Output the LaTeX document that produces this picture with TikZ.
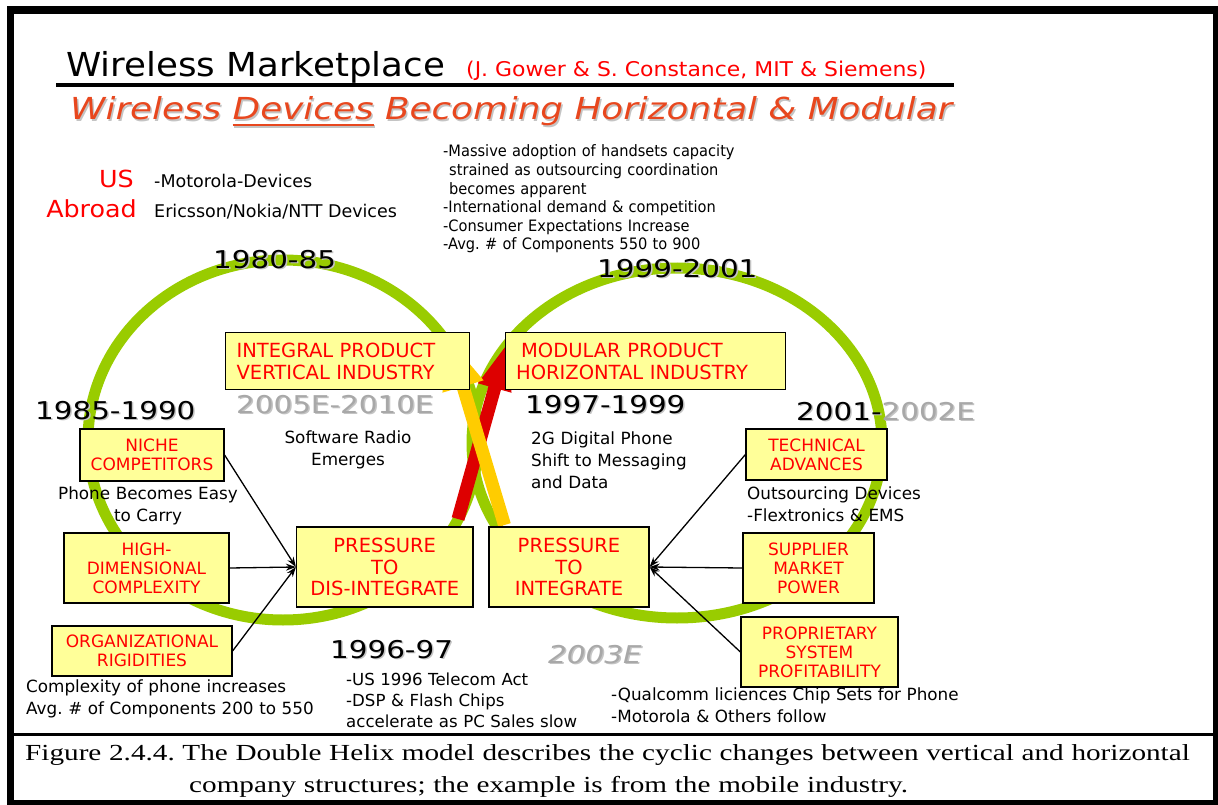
\documentclass[tikz,border=0pt]{standalone}
\usepackage{fontspec}
\setmainfont{DejaVu Sans}
\newfontfamily\titlefont[FakeStretch=1.08]{DejaVu Sans}
\newfontfamily\subfont[FakeStretch=1.18]{DejaVu Sans}
\newfontfamily\yearfont[FakeStretch=1.2]{DejaVu Sans}
\newfontfamily\narrowfont[FakeStretch=0.93]{DejaVu Sans}
\newfontfamily\capfont[FakeStretch=1.27]{Liberation Serif}
\usetikzlibrary{arrows.meta}
\definecolor{boxyellow}{HTML}{FFFF99}
\definecolor{boxred}{HTML}{FF0000}
\definecolor{helixgreen}{HTML}{99CC00}
\definecolor{arrowred}{HTML}{DD0000}
\definecolor{arrowyellow}{HTML}{FFCC00}
\definecolor{subred}{HTML}{E8471E}
\definecolor{yeargray}{HTML}{A8A8A8}
\definecolor{shadowgray}{HTML}{C4C4C4}
\newsavebox\ulbox
\newcommand\ulx[1]{\sbox\ulbox{#1}\rlap{\rule[-6.5pt]{\wd\ulbox}{2.6pt}}\usebox\ulbox}
\newcommand\shtext[3]{\rlap{\hspace{1.5pt}\raisebox{-1.5pt}{\color{#1}#3}}{\color{#2}#3}}
\tikzset{
  box/.style={draw=black, line width=1.2pt, fill=boxyellow, text=boxred, align=center, inner sep=0pt},
  smallbox/.style={box, font=\fontsize{17}{19}\selectfont},
  bigbox/.style={box, font=\fontsize{19.5}{21.5}\selectfont},
  lbl/.style={anchor=base west, inner sep=0pt},
  yr/.style={anchor=base west, inner sep=0pt, font=\yearfont\fontsize{24.5}{28}\selectfont},
  note/.style={inner sep=0pt, font=\fontsize{16.8}{22}\selectfont},
  conn/.style={-{Stealth[length=10pt,width=7pt]}, line width=1.3pt},
  helix/.style={draw=helixgreen, line width=11pt},
}
\begin{document}
\frenchspacing
\begin{tikzpicture}[x=1pt,y=-1pt]
\useasboundingbox (0,0) rectangle (1218,805);
% frame
\draw[line width=7.5pt] (10.3,10) rectangle (1216.5,804);
\draw[line width=3pt] (10.3,734.7) -- (1216.5,734.7);
% title
\node[lbl, font=\titlefont\fontsize{33}{36}\selectfont] (title) at (66,77) {Wireless Marketplace};
\node[lbl, text=boxred, font=\titlefont\fontsize{20.3}{24}\selectfont] (authors) at (466,77) {(J. Gower \& S. Constance, MIT \& Siemens)};
\draw[line width=4pt] (56,85) -- (954,85);
\node[lbl, font=\subfont\itshape\fontsize{30.3}{34}\selectfont] (subtitle) at (70,120) {\shtext{shadowgray}{subred}{Wireless \ulx{Devices} Becoming Horizontal \& Modular}};
% US / Abroad
\node[anchor=base east, inner sep=0pt, text=boxred, font=\titlefont\fontsize{23.5}{26}\selectfont] (us) at (134,188) {US};
\node[anchor=base east, inner sep=0pt, text=boxred, font=\titlefont\fontsize{23.5}{26}\selectfont] (abroad) at (137,218) {Abroad};
\node[lbl, font=\fontsize{17.5}{20}\selectfont] (moto) at (154,188) {-Motorola-Devices};
\node[lbl, font=\fontsize{17.5}{20}\selectfont] (eric) at (154,218) {Ericsson/Nokia/NTT Devices};
% massive block
\node[lbl, text width=300pt, align=left, font=\narrowfont\fontsize{15.7}{18.6}\selectfont] (massive) at (443,157)
  {-Massive adoption of handsets capacity\\\hspace*{6pt}strained as outsourcing coordination\\\hspace*{6pt}becomes apparent\\-International demand \& competition\\-Consumer Expectations Increase\\-Avg. \# of Components 550 to 900};
% helix
\draw[helix] (283,440) ellipse [x radius=195pt, y radius=180pt];
\draw[helix] (677,443) ellipse [x radius=205pt, y radius=175pt];
% red arrow
\fill[arrowred] (451.74,517.24) -- (488.44,386.24) -- (477.85,383.27) -- (506.85,344.7) -- (511.55,392.73) -- (500.96,389.76) -- (464.26,520.76) -- cycle;
% yellow arrow
\fill[arrowyellow] (498.27,526.87) -- (456.77,388.37) -- (442.4,392.67) -- (448.94,339.56) -- (483.6,380.33) -- (469.23,384.63) -- (510.73,523.13) -- cycle;
% years
\node[yr] (y8085) at (213,268) {\shtext{shadowgray}{black}{1980-85}};
\node[yr] (y9901) at (597,277) {\shtext{shadowgray}{black}{1999-2001}};
\node[yr] (y8590) at (35,419) {\shtext{shadowgray}{black}{1985-1990}};
\node[yr] (y0510) at (236,413) {\shtext{shadowgray}{yeargray}{2005E-2010E}};
\node[yr] (y9799) at (525,413) {\shtext{shadowgray}{black}{1997-1999}};
\node[yr] (y0102) at (796,420) {\shtext{shadowgray}{black}{2001-}\shtext{shadowgray}{yeargray}{2002E}};
\node[yr] (y9697) at (330,658) {\shtext{shadowgray}{black}{1996-97}};
\node[yr, font=\yearfont\itshape\fontsize{24.5}{28}\selectfont] (y03) at (548,663) {\shtext{shadowgray}{yeargray}{2003E}};
% notes
\node[note, anchor=base, text width=160pt, align=center] (softw) at (348,443) {Software Radio\\Emerges};
\node[note, anchor=base west, text width=180pt, align=left] (twog) at (531,444) {2G Digital Phone\\Shift to Messaging\\and Data};
\node[note, anchor=base, text width=200pt, align=center] (easy) at (148,499) {Phone Becomes Easy\\to Carry};
\node[note, anchor=base west, text width=330pt, align=left] (compl) at (26,692) {Complexity of phone increases\\Avg. \# of Components 200 to 550};
\node[note, anchor=base west, text width=200pt, align=left] (outs) at (747,499) {Outsourcing Devices\\-Flextronics \& EMS};
\node[note, anchor=base west, text width=260pt, align=left, font=\fontsize{16.6}{21}\selectfont] (telecom) at (346,685) {-US 1996 Telecom Act\\-DSP \& Flash Chips\\accelerate as PC Sales slow};
\node[note, anchor=base west, text width=380pt, align=left] (qual) at (611,700) {-Qualcomm liciences Chip Sets for Phone\\-Motorola \& Others follow};
% boxes
\node[box, anchor=north west, text width=221.5pt, inner xsep=11.5pt, minimum height=57pt, align=left, font=\fontsize{19.5}{22}\selectfont] (integral) at (224.5,332) {INTEGRAL PRODUCT\\VERTICAL INDUSTRY};
\node[box, anchor=north west, text width=259pt, inner xsep=10.5pt, minimum height=57pt, align=left, font=\fontsize{19.5}{22}\selectfont] (modular) at (505,332) {\hspace*{5pt}MODULAR PRODUCT\\HORIZONTAL INDUSTRY};
\node[bigbox, minimum width=176.5pt, minimum height=80pt] (dis) at (384.75,567) {PRESSURE\\TO\\DIS-INTEGRATE};
\node[bigbox, minimum width=160pt, minimum height=80pt] (int) at (569,567) {PRESSURE\\TO\\INTEGRATE};
\node[smallbox, minimum width=144pt, minimum height=52pt] (niche) at (152,455) {NICHE\\COMPETITORS};
\node[smallbox, minimum width=165pt, minimum height=70pt] (high) at (146.5,568) {HIGH-\\DIMENSIONAL\\COMPLEXITY};
\node[smallbox, minimum width=180pt, minimum height=50pt] (org) at (142,651) {ORGANIZATIONAL\\RIGIDITIES};
\node[smallbox, minimum width=141pt, minimum height=51pt] (tech) at (816.5,454.5) {TECHNICAL\\ADVANCES};
\node[smallbox, minimum width=131pt, minimum height=70pt] (supp) at (808.5,568) {SUPPLIER\\MARKET\\POWER};
\node[smallbox, minimum width=157pt, minimum height=70pt] (prop) at (819.5,652) {PROPRIETARY\\SYSTEM\\PROFITABILITY};
% connectors
\draw[conn] (niche.east) -- (dis.west);
\draw[conn] (high.east) -- (dis.west);
\draw[conn] (org.east) -- (dis.west);
\draw[conn] (tech.west) -- (int.east);
\draw[conn] (supp.west) -- (int.east);
\draw[conn] (prop.west) -- (int.east);
% caption
\node[lbl, text width=1185pt, align=left, font=\capfont\fontsize{23}{32}\selectfont] (caption) at (25,760)
  {Figure 2.4.4. The Double Helix model describes the cyclic changes between vertical and horizontal\\\hspace*{164pt}company structures; the example is from the mobile industry.};
\end{tikzpicture}
\end{document}
